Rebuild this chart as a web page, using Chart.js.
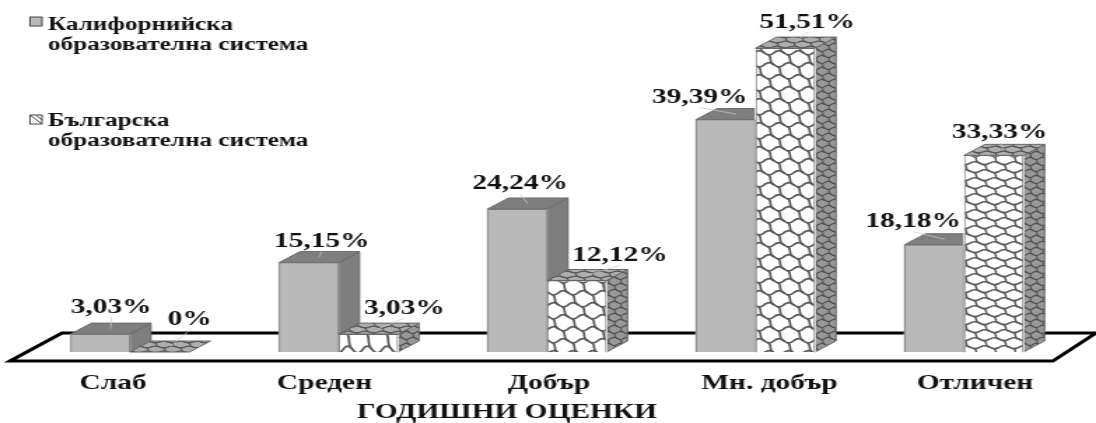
<!DOCTYPE html>
<html>
<head>
<meta charset="utf-8">
<style>
  html, body { margin: 0; padding: 0; background: #fff; overflow: hidden; }
</style>
</head>
<body>
<canvas id="grafika" width="783" height="423" style="width:1096px;height:423px;display:block"></canvas>
<script src="https://cdn.jsdelivr.net/npm/chart.js@4"></script>
<script>
const categories = ['Слаб', 'Среден', 'Добър', 'Мн. добър', 'Отличен'];
const californiaValues = [3.03, 15.15, 24.24, 39.39, 18.18];
const bulgariaValues = [0, 3.03, 12.12, 51.51, 33.33];
const californiaLegend = ['Калифорнийска', 'образователна система'];
const bulgariaLegend = ['Българска', 'образователна система'];
const axisTitle = 'ГОДИШНИ ОЦЕНКИ';

// the canvas is drawn narrow and widened by css, so x distances go through sx()
const STRETCH = 1.4;
const sx = x => x / STRETCH;
const DEPTH_X = sx(21);
const DEPTH_Y = 11;
const SERIF = '"Liberation Serif", serif';

// where each percentage sits relative to its bar: [dx, dy] in page pixels
const californiaLabelOffsets = [[11, 27], [13, 21], [3, 25], [-26, 22], [-21, 23]];
const bulgariaLabelOffsets = [[30, 32], [36, 26], [43, 25], [22, 26], [6, 23]];
// category names are not centred under their groups
const categoryOffsets = [-17, -14, 2, 14, 11];

function makePattern(bg, line, w, h, lw) {
  const c = document.createElement('canvas');
  c.width = w;
  c.height = h;
  const p = c.getContext('2d');
  p.fillStyle = bg;
  p.fillRect(0, 0, w, h);
  p.strokeStyle = line;
  p.lineWidth = lw;
  p.lineCap = 'round';
  const amp = h * 0.09;
  for (let row = -1; row < 3; row++) {
    const y = row * h / 2 + h * 0.2;
    for (const shift of [-w, 0, w]) {
      const x = shift + (row % 2 ? w / 2 : 0);
      // wavy edge of the scale
      p.beginPath();
      p.moveTo(x, y);
      p.quadraticCurveTo(x + w * 0.25, y + amp * 2, x + w * 0.5, y);
      p.quadraticCurveTo(x + w * 0.75, y - amp * 2, x + w, y);
      p.stroke();
      // slanted s-curve joining it to the row below
      p.beginPath();
      p.moveTo(x + w * 0.2, y + amp * 0.9);
      p.bezierCurveTo(x + w * 0.42, y + h * 0.17, x + w * 0.2, y + h * 0.3, x + w * 0.42, y + h / 2 - amp * 0.4);
      p.stroke();
    }
  }
  return p.createPattern(c, 'repeat');
}

const ctx = document.getElementById('grafika').getContext('2d');
const frontPattern = makePattern('#ffffff', '#5a5a5a', 14, 24, 1.7);
const densePattern = makePattern('#ffffff', '#5a5a5a', 14, 16, 1.5);
const tallPattern = makePattern('#ffffff', '#5a5a5a', 14, 38, 1.7);
const sidePattern = makePattern('#989898', '#505050', 9, 12, 1.1);
const topPattern = makePattern('#adadad', '#555555', 12, 10, 1.1);
const GRAY_FRONT = '#b9b9b9';
const GRAY_DARK = '#7e7e7e';

function quad(c, pts, fill, stroke) {
  c.beginPath();
  pts.forEach((p, i) => i ? c.lineTo(p[0], p[1]) : c.moveTo(p[0], p[1]));
  c.closePath();
  c.fillStyle = fill;
  c.fill();
  c.strokeStyle = stroke;
  c.lineWidth = 1;
  c.stroke();
}

function percentText(v) {
  return v === 0 ? '0%' : v.toFixed(2).replace('.', ',') + '%';
}

// floor frame and the side and top faces behind the bars
const depthFaces = {
  id: 'depthFaces',
  beforeDatasetsDraw(chart) {
    const c = chart.ctx;
    const base = chart.scales.y.getPixelForValue(0);
    c.save();
    c.beginPath();
    c.moveTo(sx(10), base + 9);
    c.lineTo(sx(62), base - 19);
    c.lineTo(sx(1096), base - 19);
    c.lineTo(sx(1053), base + 9);
    c.closePath();
    c.strokeStyle = '#000';
    c.lineWidth = 3;
    c.lineJoin = 'miter';
    c.stroke();

    [0, 1].forEach(d => {
      chart.getDatasetMeta(d).data.forEach(bar => {
        const l = bar.x - bar.width / 2;
        const r = bar.x + bar.width / 2;
        const t = bar.y;
        const side = d ? sidePattern : GRAY_DARK;
        const top = d ? topPattern : GRAY_DARK;
        const edge = d ? '#666' : '#6a6a6a';
        if (t < base) {
          quad(c, [[r, t], [r + DEPTH_X, t - DEPTH_Y], [r + DEPTH_X, base - DEPTH_Y], [r, base]], side, edge);
          // keeps the floor line from showing through the bar edges
          c.fillStyle = d ? '#fff' : GRAY_FRONT;
          c.fillRect(l - 0.5, t, bar.width + 1, base - t);
        }
        quad(c, [[l, t], [l + DEPTH_X, t - DEPTH_Y], [r + DEPTH_X, t - DEPTH_Y], [r, t]], top, edge);
      });
    });
    c.restore();
  }
};

// percentages above the bars, each with a faint leader line
const barLabels = {
  id: 'barLabels',
  afterDatasetsDraw(chart) {
    const c = chart.ctx;
    c.save();
    c.textAlign = 'center';
    c.textBaseline = 'middle';
    c.font = 'bold 21px ' + SERIF;
    [[californiaValues, californiaLabelOffsets], [bulgariaValues, bulgariaLabelOffsets]].forEach((set, d) => {
      chart.getDatasetMeta(d).data.forEach((bar, i) => {
        const x = bar.x + sx(set[1][i][0]);
        const y = bar.y - set[1][i][1];
        c.strokeStyle = '#c8c8c8';
        c.lineWidth = 0.7;
        c.beginPath();
        c.moveTo(x, y + 10);
        c.lineTo(bar.x + DEPTH_X / 2, bar.y - DEPTH_Y / 2);
        c.stroke();
        c.fillStyle = '#111';
        c.fillText(percentText(set[0][i]), x, y);
      });
    });
    c.restore();
  }
};

// category names and the axis caption under the floor
const axisText = {
  id: 'axisText',
  afterDraw(chart) {
    const c = chart.ctx;
    const xScale = chart.scales.x;
    c.save();
    c.textAlign = 'center';
    c.textBaseline = 'middle';
    c.fillStyle = '#111';
    c.font = 'bold 21px ' + SERIF;
    categories.forEach((name, i) => {
      c.fillText(name, xScale.getPixelForValue(i) + sx(categoryOffsets[i]), 384);
    });
    c.fillText(axisTitle, sx(507), 413);
    c.restore();
  }
};

// two-line legend block in the top left corner
const sideLegend = {
  id: 'sideLegend',
  afterDraw(chart) {
    const c = chart.ctx;
    c.save();
    c.textBaseline = 'middle';
    c.textAlign = 'left';
    c.font = 'bold 18px ' + SERIF;
    c.fillStyle = '#111';
    c.fillText(californiaLegend[0], sx(48), 25);
    c.fillText(californiaLegend[1], sx(48), 45);
    c.fillText(bulgariaLegend[0], sx(48), 121);
    c.fillText(bulgariaLegend[1], sx(48), 141);
    c.fillStyle = GRAY_FRONT;
    c.strokeStyle = '#444';
    c.lineWidth = 1;
    c.fillRect(sx(30), 17, sx(12), 9);
    c.strokeRect(sx(30), 17, sx(12), 9);
    c.fillStyle = '#fff';
    c.fillRect(sx(30), 115, sx(12), 9);
    c.strokeRect(sx(30), 115, sx(12), 9);
    c.beginPath();
    c.moveTo(sx(30), 115);
    c.lineTo(sx(42), 124);
    c.moveTo(sx(36), 115);
    c.lineTo(sx(42), 120);
    c.stroke();
    c.restore();
  }
};

new Chart(ctx, {
  type: 'bar',
  data: {
    labels: categories,
    datasets: [
      {
        label: californiaLegend.join(' '),
        data: californiaValues,
        backgroundColor: GRAY_FRONT,
        borderColor: '#7a7a7a',
        borderWidth: 1
      },
      {
        label: bulgariaLegend.join(' '),
        data: bulgariaValues,
        backgroundColor: [frontPattern, tallPattern, frontPattern, frontPattern, densePattern],
        borderColor: '#666',
        borderWidth: 1
      }
    ]
  },
  options: {
    responsive: false,
    animation: false,
    devicePixelRatio: 1,
    layout: { padding: { left: sx(25.75), right: sx(27.75), top: 27.5, bottom: 0 } },
    plugins: {
      legend: { display: false },
      tooltip: { enabled: false }
    },
    datasets: { bar: { categoryPercentage: 0.571, barPercentage: 1 } },
    scales: {
      y: { display: false, min: 0, max: 55, grid: { display: false } },
      x: {
        grid: { display: false },
        border: { display: false },
        afterFit(scale) { scale.height = 71; },
        ticks: { display: false }
      }
    }
  },
  plugins: [depthFaces, barLabels, axisText, sideLegend]
});
</script>
</body>
</html>
